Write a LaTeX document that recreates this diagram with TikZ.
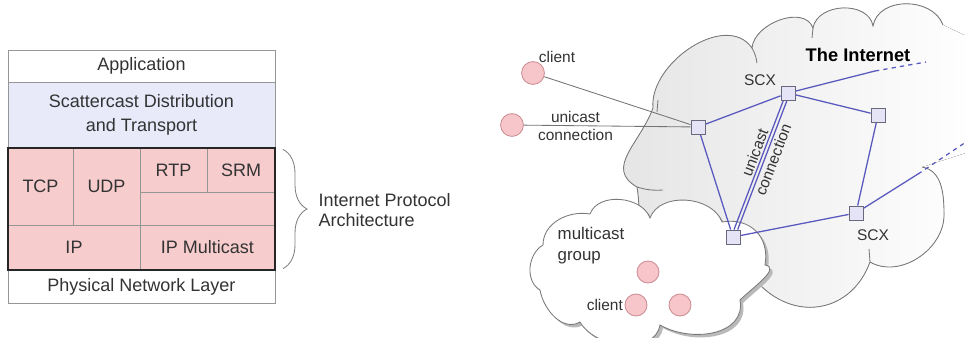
\documentclass[tikz,border=0pt]{standalone}
\usepackage{fontspec}
\setmainfont{Liberation Sans}
\usepackage{xcolor}
\usepackage{tikz}
\usetikzlibrary{decorations.pathreplacing}

\definecolor{stackpink}{RGB}{247,204,205}
\definecolor{stacklav}{RGB}{232,234,250}
\definecolor{cellgray}{RGB}{150,150,150}
\definecolor{edgeblue}{RGB}{88,88,190}
\definecolor{sqfill}{RGB}{228,228,246}
\definecolor{sqdraw}{RGB}{105,105,125}
\definecolor{clientfill}{RGB}{246,198,202}
\definecolor{clientdraw}{RGB}{205,140,145}
\definecolor{cloudline}{RGB}{120,120,120}
\definecolor{cloudgray}{RGB}{228,228,228}

\begin{document}
\begin{tikzpicture}[
    x=0.025cm, y=0.025cm,
    sz/.style 2 args={minimum width=#1*0.025cm, minimum height=#2*0.025cm},
    cell/.style={draw=cellgray, line width=0.6pt, inner sep=0pt, outer sep=0pt,
      font=\fontsize{12.8}{17}\selectfont, text=black!80, align=center},
    lbl/.style={font=\fontsize{11}{13}\selectfont, text=black!80, inner sep=1pt},
    sq/.style={draw=sqdraw, fill=sqfill, minimum size=0.35cm, inner sep=0pt, line width=0.6pt},
    client/.style={circle, draw=clientdraw, fill=clientfill, minimum size=0.57cm, inner sep=0pt, line width=0.6pt},
    link/.style={draw=edgeblue, line width=0.9pt},
    cline/.style={draw=black!55, line width=0.6pt}
  ]
  \useasboundingbox (0,0) rectangle (965,-337);

  % ══ LEFT: protocol stack ═════════════════════════════════════════════════
  \node[cell, sz={267}{32}] (app) at (141.5,-66) {Application};
  \node[cell, sz={267}{66}, fill=stacklav] (sdt) at (141.5,-115)
    {Scattercast Distribution\\and Transport};
  \node[inner sep=0pt, outer sep=0pt, sz={267}{122}, fill=stackpink] (ipa) at (141.5,-209) {};
  \node[cell, sz={65}{77}] (tcp) at (40.5,-186.5) {TCP};
  \node[cell, sz={67}{77}] (udp) at (106.5,-186.5) {UDP};
  \node[cell, sz={67}{44}] (rtp) at (173.5,-170) {RTP};
  \node[cell, sz={68}{44}] (srm) at (241,-170) {SRM};
  \node[cell, sz={132}{45}] (ip) at (74,-247.5) {IP};
  \node[cell, sz={135}{45}] (ipm) at (207.5,-247.5) {IP Multicast};
  \node[cell, sz={267}{33}] (phy) at (141.5,-286.5) {Physical Network Layer};
  \draw[line width=1.5pt, black!85] (ipa.north west) rectangle (ipa.south east);

  % brace + label
  \draw[decorate, decoration={brace, amplitude=0.6cm}, draw=black!50, line width=0.6pt]
    ([xshift=0.2cm, yshift=-1pt]ipa.north east) -- ([xshift=0.2cm, yshift=1pt]ipa.south east);
  \node[lbl, font=\fontsize{12.8}{14.5}\selectfont, anchor=west, align=left] (arch) at (317,-210)
    {Internet Protocol\\Architecture};

  % ══ RIGHT: the internet cloud ════════════════════════════════════════════
  \fill[left color=cloudgray, right color=white]
    (645,-225) to[out=120,in=-80] (637,-187)
    to[out=150,in=-110,looseness=1.2] (653,-108)
    to[out=95,in=125] (752,-48)
    to[out=85,in=110] (813,-28)
    to[out=80,in=100,looseness=1.1] (873,-26)
    to[out=80,in=110,looseness=1.1] (943,-25)
    -- (975,-40) -- (975,-150) -- (922,-167)
    to[out=-10,in=90] (944,-215)
    to[out=-90,in=-30] (870,-262)
    to[out=-110,in=-45,looseness=1.2] (760,-285)
    -- (700,-262) -- cycle;
  \draw[cloudline, line width=0.6pt]
    (645,-225) to[out=120,in=-80] (637,-187)
    to[out=150,in=-110,looseness=1.2] (653,-108)
    to[out=95,in=125] (752,-48)
    to[out=85,in=110] (813,-28)
    to[out=80,in=100,looseness=1.1] (873,-26)
    to[out=80,in=110,looseness=1.1] (943,-25);
  \draw[cloudline, line width=0.6pt]
    (922,-167) to[out=-10,in=90] (944,-215)
    to[out=-90,in=-30] (870,-262)
    to[out=-110,in=-45,looseness=1.2] (760,-285);
  % small inner strokes
  \draw[cloudline, line width=0.6pt]
    (752,-48) to[bend left=10] (757,-63)
    (813,-28) -- (812,-38)
    (870,-262) -- (869,-249)
    (637,-187) to[bend right=10] (663,-190)
    (658,-100) -- (657,-112);

  % multicast group cloud (shadow, then cloud)
  \fill[gray!55, shift={(3,-3)}]
    (543,-245) to[out=90,in=170] (590,-214)
    to[out=70,in=110] (650,-218)
    to[out=70,in=110] (722,-222)
    to[out=10,in=80,looseness=1.2] (765,-265)
    to[out=-10,in=45] (740,-300)
    to[out=-80,in=-30,looseness=1.1] (660,-325)
    to[out=-100,in=-60] (580,-322)
    to[out=-150,in=-80] (540,-290)
    to[out=150,in=210] cycle;
  \filldraw[fill=white, draw=cloudline, line width=0.6pt]
    (543,-245) to[out=90,in=170] (590,-214)
    to[out=70,in=110] (650,-218)
    to[out=70,in=110] (722,-222)
    to[out=10,in=80,looseness=1.2] (765,-265)
    to[out=-10,in=45] (740,-300)
    to[out=-80,in=-30,looseness=1.1] (660,-325)
    to[out=-100,in=-60] (580,-322)
    to[out=-150,in=-80] (540,-290)
    to[out=150,in=210] cycle;

  % SCX nodes
  \node[sq] (sA) at (698,-127) {};
  \node[sq] (sT) at (788,-93) {};
  \node[sq] (sR) at (878,-115) {};
  \node[sq] (sB) at (856,-213) {};
  \node[sq] (sL) at (733,-237) {};

  \coordinate (tMid) at (875,-71);
  \coordinate (tEnd) at (926,-62);
  \coordinate (bMid) at (918,-174);
  \coordinate (bEnd) at (972,-138);

  % links
  \draw[link] (sA) -- (sT);
  \draw[link] (sT) -- (sR);
  \draw[link] (sR) -- (sB);
  \draw[link] (sB) -- (sL);
  \draw[link] (sL) -- (sA);
  \draw[link, transform canvas={xshift=-1.3pt}] (sL) -- (sT);
  \draw[link, transform canvas={xshift=1.3pt}] (sL) -- (sT);
  \draw[link] (sT) -- (tMid);
  \draw[link, dashed] (tMid) -- (tEnd);
  \draw[link] (sB) -- (bMid);
  \draw[link, dashed] (bMid) -- (bEnd);

  % redraw squares on top of links
  \foreach \n in {sA,sT,sR,sB,sL}
    \node[sq] at (\n) {};

  % unicast clients
  \node[client] (c1) at (533,-73) {};
  \node[client] (c2) at (512,-125) {};
  \draw[cline] (c1) -- (sA);
  \draw[cline] (c2) -- node[lbl, pos=0.31, align=center, font=\fontsize{11}{12.5}\selectfont] (ucl) {unicast\\connection} (sA);
  \node[lbl] (c1lbl) at (557,-57) {client};

  % multicast clients
  \node[client, minimum size=0.55cm] (m1) at (648,-272) {};
  \node[client, minimum size=0.55cm] (m2) at (636,-305) {};
  \node[client, minimum size=0.55cm] (m3) at (680,-305) {};
  \node[lbl, anchor=east] (m2lbl) at (m2.west) {client};
  \node[lbl, font=\fontsize{12}{15}\selectfont, anchor=west, align=left] (mgrp) at (556,-246)
    {multicast\\group};

  % labels
  \node[lbl] (scxT) at (760,-80) {SCX};
  \node[lbl] (scxB) at (873,-235) {SCX};
  \node[lbl, font=\bfseries\fontsize{13}{15}\selectfont, text=black] (inet) at (858,-55) {The Internet};
  \node[lbl, rotate=69, align=center, font=\fontsize{11}{14}\selectfont] (ucr) at (764,-156)
    {unicast\\connection};

\end{tikzpicture}
\end{document}
